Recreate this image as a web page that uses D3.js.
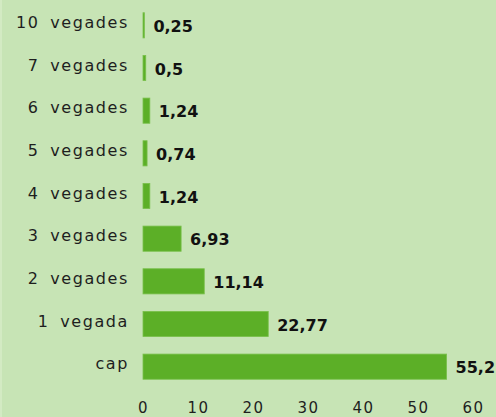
<!DOCTYPE html>
<html>
<head>
<meta charset="utf-8">
<script src="https://cdn.jsdelivr.net/npm/d3@7"></script>
<style>
  html, body { margin: 0; padding: 0; background: #c7e4b5; }
  svg { display: block; }
</style>
</head>
<body>
<svg id="chart" width="496" height="417"></svg>
<script>
const categories = ["10 vegades", "7 vegades", "6 vegades", "5 vegades", "4 vegades", "3 vegades", "2 vegades", "1 vegada", "cap"];
const values = [0.25, 0.5, 1.24, 0.74, 1.24, 6.93, 11.14, 22.77, 55.2];
const valueLabels = ["0,25", "0,5", "1,24", "0,74", "1,24", "6,93", "11,14", "22,77", "55,2"];
const ticks = [0, 10, 20, 30, 40, 50, 60];

const W = 496, H = 417;
const svg = d3.select("#chart");

svg.append("rect").attr("x", 0).attr("y", 0).attr("width", W).attr("height", H).attr("fill", "#c7e4b5");
svg.append("rect").attr("x", 0).attr("y", 0).attr("width", 2).attr("height", H).attr("fill", "#d3eac3");

const x = d3.scaleLinear().domain([0, 60]).range([143, 473]);
const y = d3.scaleBand().domain(categories).range([4, 388]).paddingInner(0.41).paddingOuter(0.205);

const data = categories.map((c, i) => ({ c, v: values[i], l: valueLabels[i] }));

const font = "'DejaVu Sans', Verdana, sans-serif";

// bars
svg.append("g").selectAll("rect").data(data).join("rect")
  .attr("x", x(0))
  .attr("y", d => y(d.c))
  .attr("width", d => Math.max(1, x(d.v) - x(0)))
  .attr("height", y.bandwidth())
  .attr("fill", "#5caf27")
  .attr("stroke", "#79c04b")
  .attr("stroke-width", 0.8);

// category labels
svg.append("g").selectAll("text").data(data).join("text")
  .attr("x", 129)
  .attr("y", d => y(d.c) + y.bandwidth() / 2 + 2.5)
  .attr("text-anchor", "end")
  .attr("font-family", font)
  .attr("font-size", 16)
  .attr("letter-spacing", "1.6px")
  .attr("word-spacing", "4px")
  .attr("fill", "#1e1e1e")
  .text(d => d.c);

// value labels
svg.append("g").selectAll("text").data(data).join("text")
  .attr("x", d => x(d.v) + 9)
  .attr("y", d => y(d.c) + y.bandwidth() / 2 + 6.5)
  .attr("font-family", font)
  .attr("font-size", 16)
  .attr("font-weight", "bold")
  .attr("fill", "#111")
  .text(d => d.l);

// x axis
const axis = d3.axisBottom(x).tickValues(ticks).tickSize(0).tickPadding(0).tickFormat(d3.format("d"));
const ax = svg.append("g").attr("transform", "translate(0,413)").call(axis);
ax.select(".domain").remove();
ax.selectAll("text")
  .attr("font-family", font)
  .attr("font-size", 15)
  .attr("letter-spacing", "1.5px")
  .attr("fill", "#1e1e1e")
  .attr("y", 0)
  .attr("dy", 0);
</script>
</body>
</html>
